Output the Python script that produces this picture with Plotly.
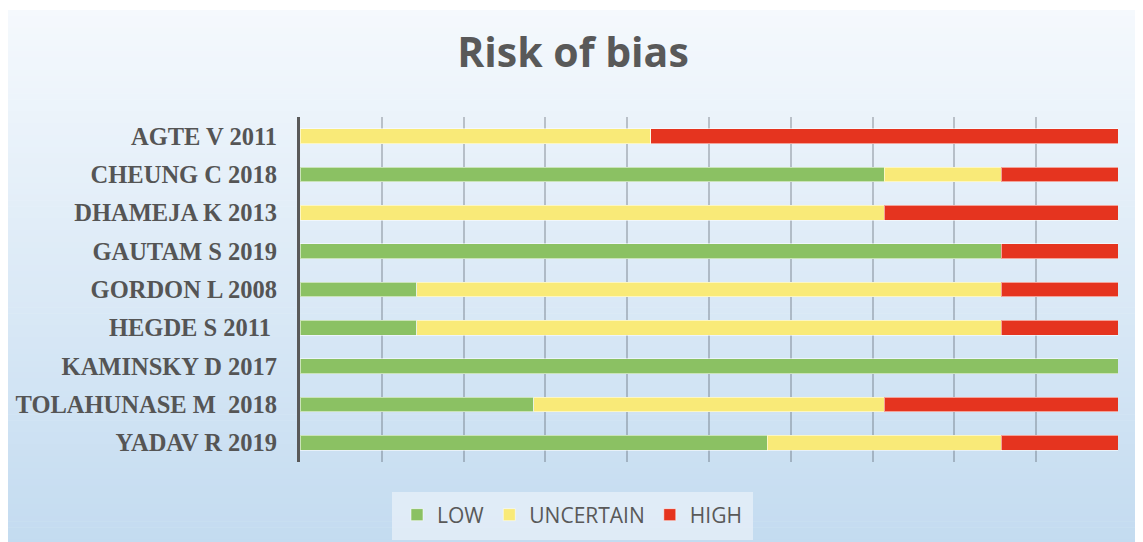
import plotly.graph_objects as go

studies = ["AGTE V 2011", "CHEUNG C 2018", "DHAMEJA K 2013", "GAUTAM S 2019",
           "GORDON L 2008", "HEGDE S 2011\u00a0", "KAMINSKY D 2017",
           "TOLAHUNASE M\u00a0 2018", "YADAV R 2019"]
low = [0, 5, 0, 6, 1, 1, 7, 2, 4]
uncertain = [3, 1, 5, 0, 5, 5, 0, 3, 2]
high = [4, 1, 2, 1, 1, 1, 0, 2, 1]
series_names = ["LOW", "UNCERTAIN", "HIGH"]
series_colors = ["#8BC163", "#F9EA78", "#E5341F"]

OFF = 8  # page body margin
W, H = 1143 - OFF, 542 - OFF
ML, MR, MT, MB = 300 - OFF, 25, 117 - OFF, 80
PW, PH = W - ML - MR, H - MT - MB

def px_x(p):
    return (p - OFF - ML) / PW

def px_y(p):
    return (H - MB - (p - OFF)) / PH

fig = go.Figure()
for name, vals, col in zip(series_names, [low, uncertain, high], series_colors):
    fig.add_trace(go.Bar(
        y=studies, x=vals, name=name, orientation="h",
        marker=dict(color=col, line=dict(color="rgba(255,255,255,0.55)", width=1)),
        hoverinfo="skip",
    ))

# gradient background
shapes = []
N = 90
top_c = (245, 249, 253)
bot_c = (195, 219, 240)
y_start, y_end = 10, 545
for i in range(N):
    a = y_start + (y_end - y_start) * i / N
    b = y_start + (y_end - y_start) * (i + 1) / N
    t = (i + 0.5) / N
    c = tuple(round(top_c[k] + (bot_c[k] - top_c[k]) * t) for k in range(3))
    shapes.append(dict(type="rect", xref="paper", yref="paper", layer="below",
                       x0=px_x(6), x1=px_x(1145), y0=px_y(b + 0.6), y1=px_y(a),
                       fillcolor="rgb(%d,%d,%d)" % c, line=dict(width=0)))
# legend box
shapes.append(dict(type="rect", xref="paper", yref="paper", layer="below",
                   x0=px_x(392), x1=px_x(753), y0=px_y(540), y1=px_y(492),
                   fillcolor="rgba(232,240,248,0.75)", line=dict(width=0)))

fig.update_layout(
    width=W, height=H,
    margin=dict(l=ML, r=MR, t=MT, b=MB, autoexpand=False),
    paper_bgcolor="white", plot_bgcolor="rgba(0,0,0,0)",
    barmode="stack", barnorm="percent", bargap=0.61,
    shapes=shapes,
    title=dict(text="<b>Risk of bias</b>", x=(573 - OFF) / W, xref="container", xanchor="center",
               y=1 - (53 - OFF) / H, yref="container", yanchor="middle",
               font=dict(family="Open Sans", size=41, color="#595959")),
    legend=dict(orientation="h", xref="container", yref="container", traceorder="normal",
                x=(572 - OFF) / W, xanchor="center", y=1 - (515 - OFF) / H, yanchor="middle",
                bgcolor="rgba(0,0,0,0)",
                font=dict(family="Open Sans", size=21, color="#595959")),
    xaxis=dict(range=[0, 100], dtick=10, showgrid=True, gridcolor="rgba(70,75,85,0.3)",
               gridwidth=1.5, showticklabels=False, zeroline=False, ticks="", showline=False,
               fixedrange=True, automargin=False),
    yaxis=dict(categoryorder="array", categoryarray=studies, autorange="reversed",
               showline=True, linecolor="#595959", linewidth=3, ticks="",
               ticklabelstandoff=15, showgrid=False, automargin=False,
               tickfont=dict(family="Liberation Serif", size=24.5, color="#555555", weight="bold")),
    showlegend=True,
)

fig.write_html("out.html")
